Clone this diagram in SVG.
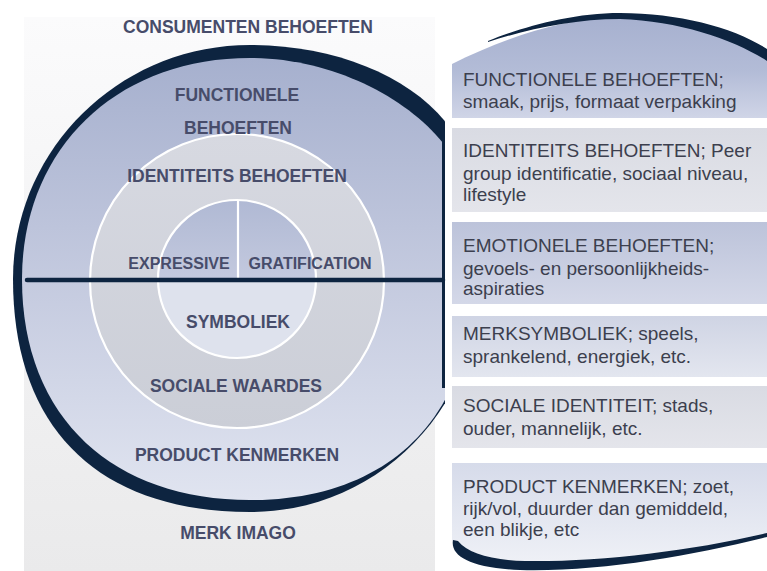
<svg xmlns="http://www.w3.org/2000/svg" width="767" height="571" viewBox="0 0 767 571">
  <defs>
    <style>
      .lbl { font-family: "Liberation Sans", Arial, sans-serif; font-weight: bold; font-size: 17.5px; fill: #474c6a; text-anchor: middle; }
      .lbl-sm { font-size: 16px; }
      .txt { font-family: "Liberation Sans", Arial, sans-serif; font-size: 19px; fill: #3c3f4e; }
      .ring-line { fill: none; stroke: #ffffff; stroke-width: 2.2; }
      .dark { fill: #0d2440; }
    </style>
    <linearGradient id="bgGrad" x1="0" y1="0" x2="0" y2="1">
      <stop offset="0" stop-color="#fbfbfc"/>
      <stop offset="1" stop-color="#eaeaeb"/>
    </linearGradient>
    <linearGradient id="bandGrad" gradientUnits="userSpaceOnUse" x1="0" y1="58" x2="0" y2="500">
      <stop offset="0" stop-color="#a6b0ce"/>
      <stop offset="0.5" stop-color="#c4cadf"/>
      <stop offset="1" stop-color="#e0e4f0"/>
    </linearGradient>
    <linearGradient id="midGrad" gradientUnits="userSpaceOnUse" x1="0" y1="134" x2="0" y2="428">
      <stop offset="0" stop-color="#d7d9e1"/>
      <stop offset="1" stop-color="#cbced7"/>
    </linearGradient>
    <linearGradient id="coreTop" gradientUnits="userSpaceOnUse" x1="0" y1="200" x2="0" y2="279">
      <stop offset="0" stop-color="#b0b9d4"/>
      <stop offset="1" stop-color="#c3c9de"/>
    </linearGradient>
    <linearGradient id="box1Grad" gradientUnits="userSpaceOnUse" x1="0" y1="15" x2="0" y2="118">
      <stop offset="0" stop-color="#a6b0cf"/>
      <stop offset="0.55" stop-color="#b3bcd7"/>
      <stop offset="1" stop-color="#d0d5e7"/>
    </linearGradient>
    <linearGradient id="grayGrad" x1="0" y1="0" x2="0" y2="1">
      <stop offset="0" stop-color="#d9dbe3"/>
      <stop offset="1" stop-color="#e4e5eb"/>
    </linearGradient>
    <linearGradient id="blueGrad" x1="0" y1="0" x2="0" y2="1">
      <stop offset="0" stop-color="#bcc3da"/>
      <stop offset="1" stop-color="#d4d8e8"/>
    </linearGradient>
    <linearGradient id="paleGrad" x1="0" y1="0" x2="0" y2="1">
      <stop offset="0" stop-color="#cfd4e4"/>
      <stop offset="1" stop-color="#e3e6ef"/>
    </linearGradient>
    <linearGradient id="box6Grad" gradientUnits="userSpaceOnUse" x1="0" y1="463" x2="0" y2="560">
      <stop offset="0" stop-color="#d6dbea"/>
      <stop offset="1" stop-color="#eef0f6"/>
    </linearGradient>
    <clipPath id="leftClip">
      <rect x="0" y="0" width="445" height="571"/>
    </clipPath>
  </defs>

  <rect width="767" height="571" fill="#ffffff"/>

  <!-- left panel: brand image circle -->
  <g id="merk-imago">
    <rect x="24" y="17" width="411" height="554" fill="url(#bgGrad)"/>
    <g clip-path="url(#leftClip)">
      <!-- dark outer rim -->
      <path class="dark" d="M13,279 C13,150 119,45 250,45 C340,45 420,80 455,135 C475,170 480,225 480,279 C480,408 378,512 250,512 C100,512 13,430 13,279 Z"/>
      <!-- thin rim edge where the circle meets the boxes -->
      <rect x="442" y="130" width="3" height="262" class="dark"/>
      <!-- outer band: functional needs / product features -->
      <path fill="url(#bandGrad)" d="M22,279 C22,150 115,58 250,58 C330,58 405,96 443,143 C464,185 473,240 473,279 C473,418 388,500 250,500 C115,500 22,420 22,279 Z"/>
      <rect x="442" y="130" width="3" height="258" class="dark"/>
      <!-- middle ring: identity needs / social values -->
      <circle id="identiteit" cx="237" cy="281" r="147" fill="url(#midGrad)"/>
      <circle cx="237" cy="281" r="147" class="ring-line"/>
      <!-- core: expressive / gratification / symbolism -->
      <g id="kern">
        <path d="M158,279 A79,79 0 0 1 316,279 Z" fill="url(#coreTop)"/>
        <path d="M158,279 A79,79 0 0 0 316,279 Z" fill="#dee2ed"/>
        <circle cx="237" cy="279" r="79" class="ring-line"/>
        <line x1="238" y1="201" x2="238" y2="279" stroke="#ffffff" stroke-width="2.2"/>
      </g>
    </g>
  </g>

  <!-- horizontal divider across the circle -->
  <g id="connectors">
    <line x1="27" y1="280" x2="443" y2="280" stroke="#0d2440" stroke-width="4.5" stroke-linecap="round"/>
  </g>

  <g id="labels-left">
    <text class="lbl" x="248" y="33">CONSUMENTEN BEHOEFTEN</text>
    <text class="lbl" x="237" y="101">FUNCTIONELE</text>
    <text class="lbl" x="238" y="134">BEHOEFTEN</text>
    <text class="lbl" x="237" y="182">IDENTITEITS BEHOEFTEN</text>
    <text class="lbl lbl-sm" x="179" y="269">EXPRESSIVE</text>
    <text class="lbl lbl-sm" x="310" y="269">GRATIFICATION</text>
    <text class="lbl" x="238" y="328">SYMBOLIEK</text>
    <text class="lbl" x="236" y="392">SOCIALE WAARDES</text>
    <text class="lbl" x="237" y="461">PRODUCT KENMERKEN</text>
    <text class="lbl" x="238" y="539">MERK IMAGO</text>
  </g>

  <!-- right panel: explanation boxes -->
  <g id="box-functioneel">
    <path fill="url(#box1Grad)" d="M452,64 C500,40 560,18 620,17 C680,17 735,32 767,54 L767,118 L452,118 Z"/>
    <path class="dark" d="M488,41 C520,28 570,13 620,13 C680,13 735,28 767,49 L767,61 C735,40 680,21 620,19 C572,19 525,30 488,42 Z"/>
    <text class="txt" x="463" y="86">FUNCTIONELE BEHOEFTEN;</text>
    <text class="txt" x="463" y="108">smaak, prijs, formaat verpakking</text>
  </g>

  <g id="box-identiteit">
    <rect x="452" y="128" width="315" height="84" fill="url(#grayGrad)"/>
    <text class="txt" x="463" y="157">IDENTITEITS BEHOEFTEN; Peer</text>
    <text class="txt" x="463" y="180">group identificatie, sociaal niveau,</text>
    <text class="txt" x="463" y="201">lifestyle</text>
  </g>

  <g id="box-emotioneel">
    <rect x="452" y="222" width="315" height="82" fill="url(#blueGrad)"/>
    <text class="txt" x="463" y="252">EMOTIONELE BEHOEFTEN;</text>
    <text class="txt" x="463" y="275">gevoels- en persoonlijkheids-</text>
    <text class="txt" x="463" y="295">aspiraties</text>
  </g>

  <g id="box-symboliek">
    <rect x="452" y="316" width="315" height="61" fill="url(#paleGrad)"/>
    <text class="txt" x="463" y="340">MERKSYMBOLIEK; speels,</text>
    <text class="txt" x="463" y="363">sprankelend, energiek, etc.</text>
  </g>

  <g id="box-sociaal">
    <rect x="452" y="386" width="315" height="62" fill="url(#grayGrad)"/>
    <text class="txt" x="463" y="412">SOCIALE IDENTITEIT; stads,</text>
    <text class="txt" x="463" y="435">ouder, mannelijk, etc.</text>
  </g>

  <g id="box-product">
    <path fill="url(#box6Grad)" d="M452,463 L767,463 L767,535 C690,551 600,562 525,561 C490,560 468,553 458,541 L452,541 Z"/>
    <path class="dark" d="M453,540 C450,556 470,568 520,570 C600,572 690,556 767,537 L767,533 C690,551 600,562 525,561 C490,560 468,553 458,541 Z"/>
    <text class="txt" x="463" y="493">PRODUCT KENMERKEN; zoet,</text>
    <text class="txt" x="463" y="515">rijk/vol, duurder dan gemiddeld,</text>
    <text class="txt" x="463" y="536">een blikje, etc</text>
  </g>
</svg>
